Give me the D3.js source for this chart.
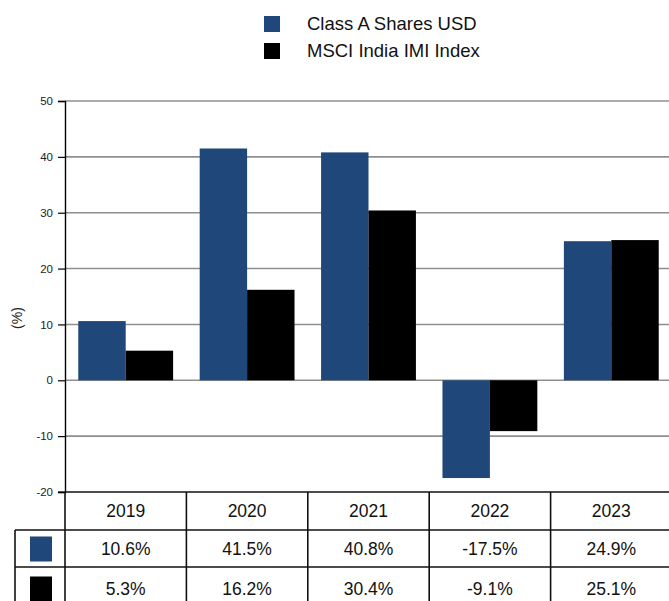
<!DOCTYPE html>
<html>
<head>
<meta charset="utf-8">
<script src="https://cdn.jsdelivr.net/npm/d3@7"></script>
<style>
  body { margin: 0; background: #fff; }
  svg { display: block; font-family: "Liberation Sans", Arial, sans-serif; }
</style>
</head>
<body>
<svg id="chart"></svg>
<script>
// data
const years = ["2019", "2020", "2021", "2022", "2023"];
const seriesNames = ["Class A Shares USD", "MSCI India IMI Index"];
const classA = [10.6, 41.5, 40.8, -17.5, 24.9];
const msci = [5.3, 16.2, 30.4, -9.1, 25.1];
const yTicks = [50, 40, 30, 20, 10, 0, -10, -20];
const colors = ["#1f4779", "#000000"];

const width = 669, height = 601;
const marginLeft = 65, marginTop = 101, plotBottom = 492;
const plotRight = 672;

const svg = d3.select("#chart").attr("width", width).attr("height", height);

// scales
const x = d3.scaleBand().domain(years).range([marginLeft, plotRight]).paddingInner(0).paddingOuter(0);
const x1 = d3.scaleBand().domain([0, 1]).range([0, x.bandwidth()]).paddingOuter(0.28).paddingInner(0);
const y = d3.scaleLinear().domain([-20, 50]).range([plotBottom, marginTop]);
const fmt = v => d3.format(".1f")(v).replace("−", "-");

// grid lines
svg.append("g")
  .selectAll("line")
  .data(yTicks.filter(d => d > -20))
  .join("line")
  .attr("x1", marginLeft).attr("x2", width)
  .attr("y1", d => y(d)).attr("y2", d => y(d))
  .attr("stroke", "#8f8f8f").attr("stroke-width", 1.6);

// bars
const rows = [classA, msci];
rows.forEach((vals, s) => {
  svg.append("g")
    .selectAll("rect")
    .data(vals)
    .join("rect")
    .attr("x", (d, i) => x(years[i]) + x1(s))
    .attr("width", x1.bandwidth())
    .attr("y", d => y(Math.max(0, d)))
    .attr("height", d => Math.abs(y(d) - y(0)))
    .attr("fill", colors[s]);
});

// y axis
const yAxis = d3.axisLeft(y).tickValues(yTicks).tickSize(7).tickPadding(5)
  .tickFormat(d => String(d));
svg.append("g")
  .attr("transform", `translate(${marginLeft},0)`)
  .call(yAxis)
  .call(g => g.select(".domain").attr("stroke", "#000").attr("stroke-width", 1.4))
  .call(g => g.selectAll(".tick line").attr("stroke", "#000").attr("stroke-width", 1.2))
  .call(g => g.selectAll(".tick text").attr("font-size", 11.5).attr("fill", "#222")
    .attr("font-family", "Liberation Sans, Arial, sans-serif"));

svg.append("text")
  .attr("transform", "translate(22,318) rotate(-90)")
  .attr("text-anchor", "middle")
  .attr("font-size", 14)
  .attr("fill", "#222")
  .text("(%)");

// legend
const legend = svg.append("g");
seriesNames.forEach((name, i) => {
  legend.append("rect")
    .attr("x", 264).attr("y", 16 + i * 27)
    .attr("width", 16).attr("height", 16)
    .attr("fill", colors[i]);
  legend.append("text")
    .attr("x", 307).attr("y", 24 + i * 27)
    .attr("dy", "0.35em")
    .attr("font-size", 18.5)
    .attr("fill", "#111")
    .text(name);
});

// table under the chart
const rowY = [492, 530, 567, 610];
const table = svg.append("g");
const lineStyle = sel => sel.attr("stroke", "#111").attr("stroke-width", 1.6);

// header labels
table.selectAll("text.year")
  .data(years)
  .join("text")
  .attr("class", "year")
  .attr("x", d => x(d) + x.bandwidth() / 2)
  .attr("y", (rowY[0] + rowY[1]) / 2)
  .attr("dy", "0.35em")
  .attr("text-anchor", "middle")
  .attr("font-size", 17.5)
  .attr("fill", "#111")
  .text(d => d);

// value rows
rows.forEach((vals, s) => {
  const yc = (rowY[s + 1] + rowY[s + 2]) / 2;
  table.append("rect")
    .attr("x", 30).attr("y", yc - 12)
    .attr("width", 22).attr("height", 25)
    .attr("fill", colors[s]);
  table.append("g")
    .selectAll("text")
    .data(vals)
    .join("text")
    .attr("x", (d, i) => x(years[i]) + x.bandwidth() / 2)
    .attr("y", yc)
    .attr("dy", "0.35em")
    .attr("text-anchor", "middle")
    .attr("font-size", 17.5)
    .attr("fill", "#111")
    .text(d => fmt(d) + "%");
});

// horizontal table lines
table.append("line").attr("x1", marginLeft).attr("x2", width).attr("y1", rowY[0]).attr("y2", rowY[0]).call(lineStyle);
table.append("line").attr("x1", 58).attr("x2", marginLeft).attr("y1", rowY[0]).attr("y2", rowY[0]).attr("stroke", "#000");
[rowY[1], rowY[2]].forEach(yy => {
  table.append("line").attr("x1", 15).attr("x2", width).attr("y1", yy).attr("y2", yy).call(lineStyle);
});
// vertical table lines
table.append("line").attr("x1", 15).attr("x2", 15).attr("y1", rowY[1]).attr("y2", height).call(lineStyle);
table.append("line").attr("x1", marginLeft).attr("x2", marginLeft).attr("y1", rowY[0]).attr("y2", height).call(lineStyle);
table.selectAll("line.sep")
  .data(years.slice(1))
  .join("line")
  .attr("class", "sep")
  .attr("x1", d => x(d)).attr("x2", d => x(d))
  .attr("y1", rowY[0]).attr("y2", height)
  .call(lineStyle);
</script>
</body>
</html>
